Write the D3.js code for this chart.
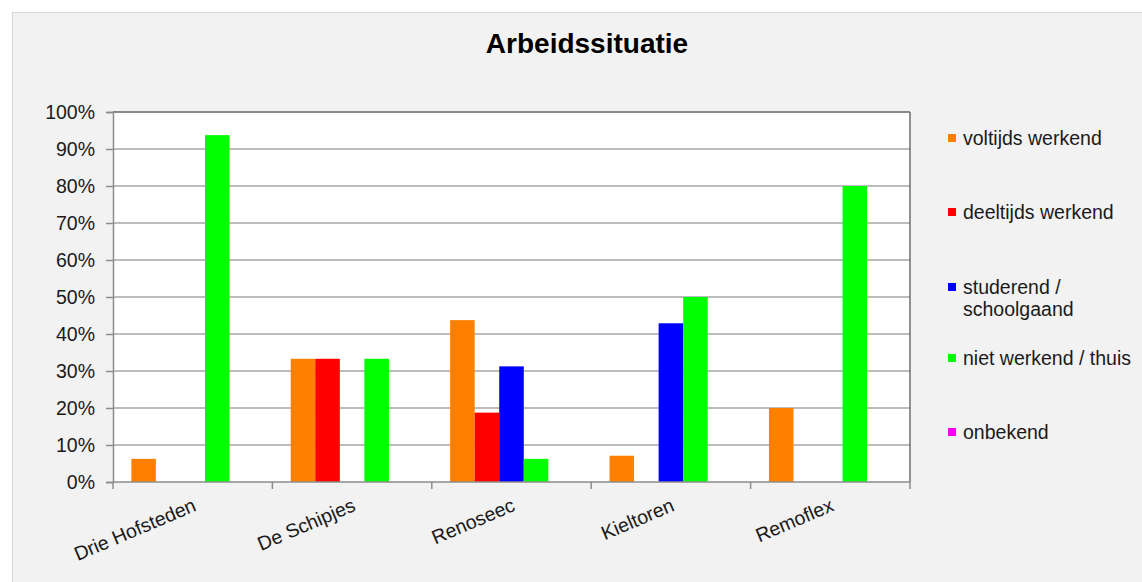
<!DOCTYPE html>
<html>
<head>
<meta charset="utf-8">
<script src="https://cdn.jsdelivr.net/npm/d3@7"></script>
<style>
  body { margin: 0; background: #fff; }
  text { font-family: "Liberation Sans", Arial, sans-serif; }
</style>
</head>
<body>
<div id="chart"></div>
<script>
// data
var categories = ["Drie Hofsteden", "De Schipjes", "Renoseec", "Kieltoren", "Remoflex"];
var seriesNames = ["voltijds werkend", "deeltijds werkend", "studerend / schoolgaand", "niet werkend / thuis", "onbekend"];
var seriesColors = ["#ff8000", "#ff0000", "#0000ff", "#00ff00", "#ff00ff"];
var voltijds = [6.25, 33.3, 43.75, 7.1, 20];
var deeltijds = [0, 33.3, 18.75, 0, 0];
var studerend = [0, 0, 31.25, 42.9, 0];
var nietWerkend = [93.75, 33.3, 6.25, 50, 80];
var onbekend = [0, 0, 0, 0, 0];
var yTicks = [0, 10, 20, 30, 40, 50, 60, 70, 80, 90, 100];

var values = [voltijds, deeltijds, studerend, nietWerkend, onbekend];

var svg = d3.select("#chart").append("svg")
  .attr("width", 1142)
  .attr("height", 582);

// chart area background
svg.append("rect")
  .attr("x", 12.5)
  .attr("y", 12.5)
  .attr("width", 1142)
  .attr("height", 582)
  .style("fill", "#f2f2f2")
  .style("stroke", "#d4d4d4");

var plotLeft = 113, plotRight = 910, plotTop = 112, plotBottom = 482;

// gap width 150% like the original spreadsheet chart
var x0 = d3.scaleBand().domain(categories).range([plotLeft, plotRight]).paddingInner(0.23).paddingOuter(0.115);
var x1 = d3.scaleBand().domain(seriesNames).range([0, x0.bandwidth()]);
var y = d3.scaleLinear().domain([0, 100]).range([plotBottom, plotTop]);

// plot area
svg.append("rect")
  .attr("x", plotLeft)
  .attr("y", plotTop)
  .attr("width", plotRight - plotLeft)
  .attr("height", plotBottom - plotTop)
  .style("fill", "#fff");

// gridlines
svg.selectAll(".grid").data(yTicks.slice(1))
  .enter().append("line")
    .attr("class", "grid")
    .attr("x1", plotLeft).attr("x2", plotRight)
    .attr("y1", function (d) { return y(d); })
    .attr("y2", function (d) { return y(d); })
    .style("stroke", "#a6a6a6")
    .style("stroke-width", 1.5);

// bars
var groups = svg.selectAll(".group").data(categories)
  .enter().append("g")
    .attr("class", "group")
    .attr("transform", function (d) { return "translate(" + x0(d) + ",0)"; });

groups.selectAll("rect")
  .data(function (d, i) {
    return seriesNames.map(function (s, j) { return { s: s, v: values[j][i], c: seriesColors[j] }; });
  })
  .enter().append("rect")
    .attr("x", function (d) { return x1(d.s); })
    .attr("y", function (d) { return y(d.v); })
    .attr("width", x1.bandwidth())
    .attr("height", function (d) { return plotBottom - y(d.v); })
    .style("fill", function (d) { return d.c; });

// right and top border
svg.append("line")
  .attr("x1", plotRight).attr("x2", plotRight)
  .attr("y1", plotTop).attr("y2", plotBottom)
  .style("stroke", "#6e6e6e").style("stroke-width", 1.5);
svg.append("line")
  .attr("x1", plotLeft).attr("x2", plotRight)
  .attr("y1", plotTop).attr("y2", plotTop)
  .style("stroke", "#7a7a7a").style("stroke-width", 1.5);

// y axis
var yAxis = svg.append("g")
  .attr("transform", "translate(" + plotLeft + ",0)")
  .call(d3.axisLeft(y).tickValues(yTicks).tickSize(7).tickPadding(11)
    .tickFormat(function (d) { return d + "%"; }));
yAxis.select(".domain").style("stroke", "#8c8c8c").style("stroke-width", 1.5);
yAxis.selectAll(".tick line").style("stroke", "#8c8c8c").style("stroke-width", 1.5);
yAxis.selectAll("text")
  .style("font-size", "19.5px")
  .style("fill", "#1a1a1a")
  .style("font-family", "Liberation Sans, Arial, sans-serif");

// x axis: ticks between categories
var boundaries = d3.range(categories.length + 1).map(function (i) {
  return plotLeft + i * (plotRight - plotLeft) / categories.length;
});
svg.append("line")
  .attr("x1", plotLeft).attr("x2", plotRight)
  .attr("y1", plotBottom).attr("y2", plotBottom)
  .style("stroke", "#8c8c8c").style("stroke-width", 1.5);
svg.selectAll(".xtick").data(boundaries)
  .enter().append("line")
    .attr("class", "xtick")
    .attr("x1", function (d) { return d; })
    .attr("x2", function (d) { return d; })
    .attr("y1", plotBottom).attr("y2", plotBottom + 7)
    .style("stroke", "#8c8c8c").style("stroke-width", 1.5);

svg.selectAll(".xlabel").data(categories)
  .enter().append("text")
    .attr("class", "xlabel")
    .attr("text-anchor", "end")
    .attr("transform", function (d) {
      return "translate(" + (x0(d) + x0.bandwidth() / 2 + 2) + "," + (plotBottom + 22) + ") rotate(-23)";
    })
    .attr("dy", "0.35em")
    .style("font-size", "19.5px")
    .style("fill", "#1a1a1a")
    .text(function (d) { return d; });

// title
svg.append("text")
  .attr("x", 587)
  .attr("y", 53)
  .attr("text-anchor", "middle")
  .style("font-size", "28px")
  .style("font-weight", "bold")
  .style("fill", "#000")
  .text("Arbeidssituatie");

// legend
var legendY = [138, 212, 287, 358, 432];
var legend = svg.selectAll(".legend").data(seriesNames)
  .enter().append("g")
    .attr("class", "legend")
    .attr("transform", function (d, i) { return "translate(948," + legendY[i] + ")"; });

legend.append("rect")
  .attr("x", 0).attr("y", -4)
  .attr("width", 8).attr("height", 8)
  .style("fill", function (d, i) { return seriesColors[i]; });

legend.append("text")
  .attr("x", 15)
  .attr("y", 7)
  .style("font-size", "19.5px")
  .style("fill", "#1a1a1a")
  .each(function (d) {
    var parts = d === "studerend / schoolgaand" ? ["studerend /", "schoolgaand"] : [d];
    var t = d3.select(this);
    parts.forEach(function (p, k) {
      t.append("tspan").attr("x", 15).attr("dy", k === 0 ? 0 : 22).text(p);
    });
  });
</script>
</body>
</html>
